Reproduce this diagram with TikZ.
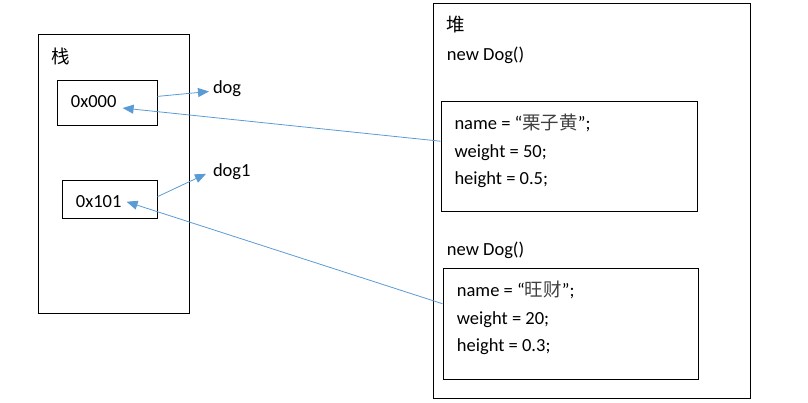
\documentclass[tikz,border=0pt]{standalone}
\usepackage{fontspec}
\setmainfont{Carlito}
\newfontfamily\cjk{Noto Sans CJK SC}
\usetikzlibrary{arrows.meta}
\usetikzlibrary{positioning}
\usepackage{xcolor}
\definecolor{ptrblue}{RGB}{91,155,213}

\begin{document}
\begin{tikzpicture}[x=1pt, y=-1pt,
		box/.style={draw, line width=1pt, inner sep=0pt},
		txt/.style={inner sep=0pt, anchor=base west, font=\fontsize{18.5}{22}\selectfont},
		ptr/.style={-{Triangle[length=11pt, width=9pt]}, ptrblue, line width=0.8pt}]
	\useasboundingbox (0,0) rectangle (808,403);
	% 栈
	\node[box, minimum width=151pt, minimum height=278pt] (stack) at (113.5,174) {};
	\node[txt] (stacktitle) at (51,64) {\cjk 栈};
	\node[box, minimum width=100pt, minimum height=45pt] (boxA) at (107,103.5) {};
	\node[box, minimum width=95pt, minimum height=38pt] (boxB) at (109.5,200) {};
	\node[txt] (addrA) at (70.7,107.7) {0x000};
	\node[txt] (addrB) at (75.7,207.7) {0x101};
	\node[txt, outer sep=4pt] (dogA) at (209,93.3) {dog};
	\node[txt, outer sep=4pt] (dogB) at (209,176.7) {dog1};
	% 堆
	\node[box, minimum width=317pt, minimum height=394pt] (heap) at (591.5,201) {};
	\node[txt] (heaptitle) at (446,32) {\cjk 堆};
	\node[txt] (newA) at (446.7,61) {new Dog()};
	\node[box, minimum width=256pt, minimum height=110pt] (objA) at (569,157) {};
	\node[txt] (nameA) at (454.3,130) {name = “{\cjk\color{black!75}栗子黄}”;};
	\node[txt] (weightA) at ([yshift=-27.5pt]nameA.base west) {weight = 50;};
	\node[txt] (heightA) at ([yshift=-27.5pt]weightA.base west) {height = 0.5;};
	\node[txt] (newB) at (446.7,255) {new Dog()};
	\node[box, minimum width=255pt, minimum height=110pt] (objB) at (570.5,324) {};
	\node[txt] (nameB) at (456.7,296.7) {name = “{\cjk\color{black!75}旺财}”;};
	\node[txt] (weightB) at ([yshift=-27.5pt]nameB.base west) {weight = 20;};
	\node[txt] (heightB) at ([yshift=-27.5pt]weightB.base west) {height = 0.3;};
	% 引用
	\draw[ptr] (boxA.8) -- ([yshift=-3pt]dogA.west);
	\draw[ptr] (boxB.4) -- ([xshift=-3pt,yshift=-2pt]dogB.west);
	\draw[ptr] (objA.173) -- ([xshift=6pt]addrA.south east);
	\draw[ptr] (objB.171.5) -- ([xshift=5pt]addrB.east);
\end{tikzpicture}
\end{document}
